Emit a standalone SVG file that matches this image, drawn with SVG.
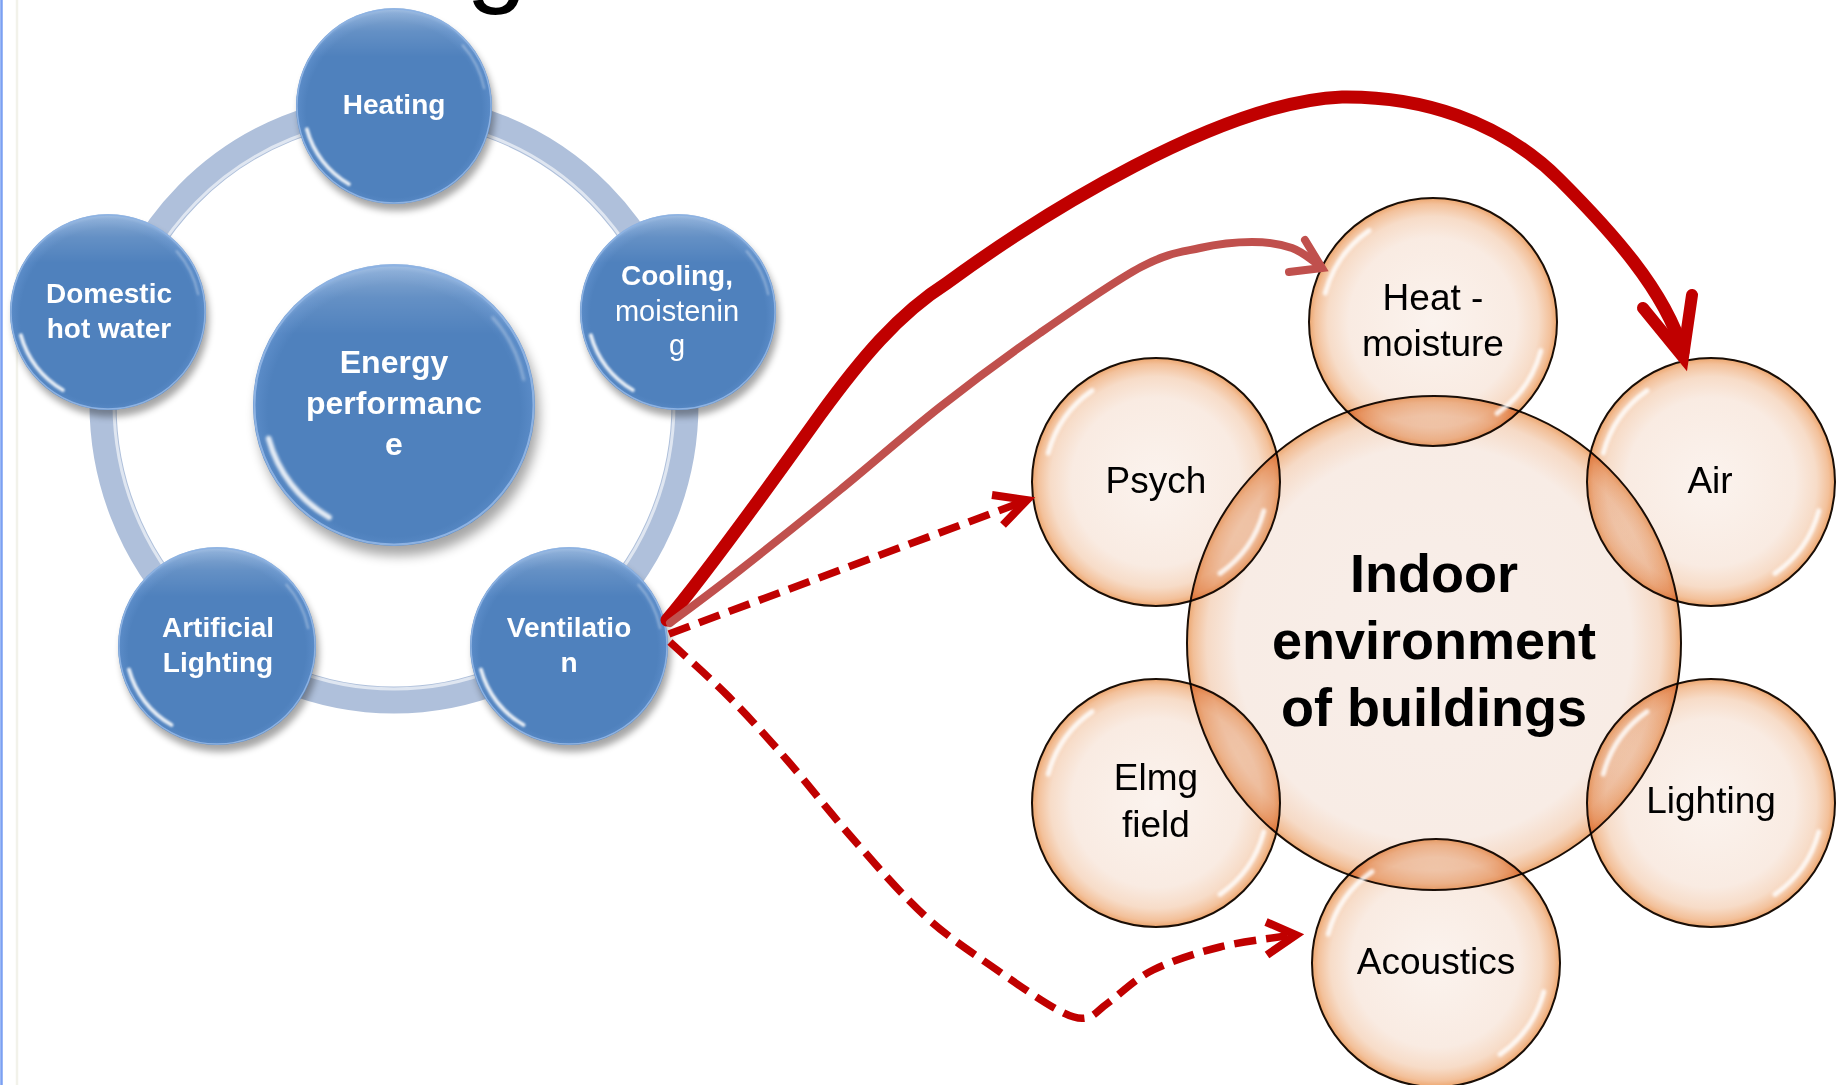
<svg xmlns="http://www.w3.org/2000/svg" width="1841" height="1085" viewBox="0 0 1841 1085">
  <style>
    .tb { font-family: "Liberation Sans", Arial, sans-serif; font-weight: bold; font-size: 28px; fill: #FFFFFF; text-anchor: middle; }
    .tbr { font-family: "Liberation Sans", Arial, sans-serif; font-weight: normal; font-size: 29px; fill: #FFFFFF; text-anchor: middle; }
    .te { font-family: "Liberation Sans", Arial, sans-serif; font-weight: bold; font-size: 32px; fill: #FFFFFF; text-anchor: middle; }
    .to { font-family: "Liberation Sans", Arial, sans-serif; font-size: 37px; fill: #000000; text-anchor: middle; }
    .tc { font-family: "Liberation Sans", Arial, sans-serif; font-weight: bold; font-size: 54px; fill: #000000; text-anchor: middle; }
    .ob { fill: url(#gO); stroke: #1A0E06; stroke-width: 2; mix-blend-mode: multiply; }
    .obBig { fill: url(#gOB); stroke: #1A0E06; stroke-width: 2; mix-blend-mode: multiply; }
    .thick { fill: none; stroke: #C00000; stroke-width: 13; stroke-linecap: round; stroke-linejoin: round; }
    .thin { fill: none; stroke: #C0504D; stroke-width: 8; stroke-linecap: round; stroke-linejoin: round; }
    .dash { fill: none; stroke: #C00000; stroke-width: 7.5; stroke-dasharray: 22 10; }
    .headThick { fill: none; stroke: #C00000; stroke-width: 12; stroke-linecap: round; stroke-linejoin: miter; }
    .headThin { fill: none; stroke: #C0504D; stroke-width: 8; stroke-linecap: round; stroke-linejoin: miter; }
    .headDash { fill: none; stroke: #C00000; stroke-width: 8; stroke-linecap: butt; stroke-linejoin: miter; }
  </style>
  <defs>
    <radialGradient id="gB" cx="50%" cy="52%" r="52%">
      <stop offset="0%" stop-color="#4F81BD"/>
      <stop offset="86%" stop-color="#4F81BD"/>
      <stop offset="95%" stop-color="#5A8BC7"/>
      <stop offset="100%" stop-color="#78A3D8"/>
    </radialGradient>
    <linearGradient id="gBtop" x1="0" y1="0" x2="0" y2="1">
      <stop offset="0%" stop-color="#FFFFFF" stop-opacity="0.35"/>
      <stop offset="12%" stop-color="#FFFFFF" stop-opacity="0.12"/>
      <stop offset="25%" stop-color="#FFFFFF" stop-opacity="0"/>
    </linearGradient>
    <radialGradient id="gO" cx="50%" cy="50%" r="50%">
      <stop offset="0%" stop-color="#FBF3EE"/>
      <stop offset="68%" stop-color="#F9EBE2"/>
      <stop offset="85%" stop-color="#F7DCC8"/>
      <stop offset="95%" stop-color="#F3C19B"/>
      <stop offset="100%" stop-color="#EDA66E"/>
    </radialGradient>
    <radialGradient id="gOB" cx="50%" cy="50%" r="50%">
      <stop offset="0%" stop-color="#F8EEE9"/>
      <stop offset="80%" stop-color="#F8ECE5"/>
      <stop offset="92%" stop-color="#F6DAC6"/>
      <stop offset="97.5%" stop-color="#F2BF98"/>
      <stop offset="100%" stop-color="#EDA872"/>
    </radialGradient>
    <filter id="blurSh" x="-30%" y="-30%" width="160%" height="160%">
      <feGaussianBlur stdDeviation="4"/>
    </filter>
    <filter id="blurHi" x="-30%" y="-30%" width="160%" height="160%">
      <feGaussianBlur stdDeviation="1.2"/>
    </filter>
    <g id="blueBall">
      <circle r="100" cx="3" cy="7" fill="#000000" opacity="0.35" filter="url(#blurSh)"/>
      <circle r="100" fill="url(#gB)"/>
      <circle r="100" fill="url(#gBtop)"/>
      <circle r="99" fill="none" stroke="#8DB2E2" stroke-width="1.5"/>
      <path d="M -46 79.7 A 92 92 0 0 1 -88.9 23.8" fill="none" stroke="#FFFFFF" stroke-width="4" stroke-linecap="round" opacity="0.85" filter="url(#blurHi)"/>
      <path d="M 70 -62 A 94 94 0 0 1 92 -18" fill="none" stroke="#FFFFFF" stroke-width="2" stroke-linecap="round" opacity="0.35" filter="url(#blurHi)"/>
    </g>
    <g id="oHi">
      <path d="M -86.9 -23.3 A 90 90 0 0 1 -51.6 -73.7" fill="none" stroke="#FFFFFF" stroke-width="4" stroke-linecap="round" opacity="0.85" filter="url(#blurHi)"/>
      <path d="M 86.9 23.3 A 90 90 0 0 1 51.6 73.7" fill="none" stroke="#FFFFFF" stroke-width="4" stroke-linecap="round" opacity="0.85" filter="url(#blurHi)"/>
    </g>
  </defs>

  <rect x="0" y="0" width="1841" height="1085" fill="#FFFFFF"/>
  <line x1="1.5" y1="0" x2="1.5" y2="1085" stroke="#7BA0F2" stroke-width="2.5"/>
  <line x1="17" y1="0" x2="17" y2="1085" stroke="#F2F2EA" stroke-width="2.5"/>

  <text x="466" y="-8" font-family="Liberation Sans, Arial, sans-serif" font-size="110" fill="#000000">g</text>

  <g id="energy-cycle">
    <g id="cycle-ring">
      <ellipse cx="394" cy="404" rx="291" ry="296" fill="none" stroke="#AFC0DB" stroke-width="27"/>
      <ellipse cx="394" cy="404" rx="280" ry="285" fill="none" stroke="#FFFFFF" stroke-width="3" opacity="0.6"/>
    </g>
    <g id="node-heating">
      <use href="#blueBall" transform="translate(394 106) scale(0.98)"/>
      <text class="tb" x="394" y="114">Heating</text>
    </g>
    <g id="node-domestic-hot-water">
      <use href="#blueBall" transform="translate(108 312) scale(0.98)"/>
      <text class="tb" x="109" y="303">Domestic</text>
      <text class="tb" x="109" y="338">hot water</text>
    </g>
    <g id="node-cooling">
      <use href="#blueBall" transform="translate(678 312) scale(0.98)"/>
      <text class="tb" x="677" y="285">Cooling,</text>
      <text class="tbr" x="677" y="321">moistenin</text>
      <text class="tbr" x="677" y="355">g</text>
    </g>
    <g id="node-energy-performance">
      <use href="#blueBall" transform="translate(394 405) scale(1.41)"/>
      <text class="te" x="394" y="373">Energy</text>
      <text class="te" x="394" y="414">performanc</text>
      <text class="te" x="394" y="455">e</text>
    </g>
    <g id="node-artificial-lighting">
      <use href="#blueBall" transform="translate(217 646) scale(0.99)"/>
      <text class="tb" x="218" y="637">Artificial</text>
      <text class="tb" x="218" y="672">Lighting</text>
    </g>
    <g id="node-ventilation">
      <use href="#blueBall" transform="translate(569 646) scale(0.99)"/>
      <text class="tb" x="569" y="637">Ventilatio</text>
      <text class="tb" x="569" y="672">n</text>
    </g>
  </g>

  <g id="indoor-environment">
    <g id="node-indoor-environment">
      <circle class="obBig" cx="1434" cy="643" r="247"/>
      <text class="tc" x="1434" y="592">Indoor</text>
      <text class="tc" x="1434" y="659">environment</text>
      <text class="tc" x="1434" y="726">of buildings</text>
    </g>
    <g id="node-heat-moisture">
      <circle class="ob" cx="1433" cy="322" r="124"/>
      <use href="#oHi" transform="translate(1433 322) scale(1.24)"/>
      <text class="to" x="1433" y="310">Heat -</text>
      <text class="to" x="1433" y="356">moisture</text>
    </g>
    <g id="node-psych">
      <circle class="ob" cx="1156" cy="482" r="124"/>
      <use href="#oHi" transform="translate(1156 482) scale(1.24)"/>
      <text class="to" x="1156" y="493">Psych</text>
    </g>
    <g id="node-air">
      <circle class="ob" cx="1711" cy="482" r="124"/>
      <use href="#oHi" transform="translate(1711 482) scale(1.24)"/>
      <text class="to" x="1710" y="493">Air</text>
    </g>
    <g id="node-elmg-field">
      <circle class="ob" cx="1156" cy="803" r="124"/>
      <use href="#oHi" transform="translate(1156 803) scale(1.24)"/>
      <text class="to" x="1156" y="790">Elmg</text>
      <text class="to" x="1156" y="837">field</text>
    </g>
    <g id="node-lighting">
      <circle class="ob" cx="1711" cy="803" r="124"/>
      <use href="#oHi" transform="translate(1711 803) scale(1.24)"/>
      <text class="to" x="1711" y="813">Lighting</text>
    </g>
    <g id="node-acoustics">
      <circle class="ob" cx="1436" cy="963" r="124"/>
      <use href="#oHi" transform="translate(1436 963) scale(1.24)"/>
      <text class="to" x="1436" y="974">Acoustics</text>
    </g>
  </g>

  <g id="connectors">
    <path class="thick" d="M 667 620 C 705 575, 770 485, 820 415 C 860 360, 898 314, 947 283 C 1040 215, 1220 102, 1342 97 C 1420 96, 1500 120, 1560 180 C 1610 230, 1665 290, 1683 352"/>
    <path class="headThick" d="M 1643 308 L 1683 357 L 1692 295"/>

    <path class="thin" d="M 670 623 C 681.7 614.2, 711.7 592.2, 740 570 C 768.3 547.8, 806.7 517.2, 840 490 C 873.3 462.8, 906.7 433.2, 940 407 C 973.3 380.8, 1006.5 356.3, 1040 333 C 1073.5 309.7, 1114.3 281.2, 1141 267 C 1167.7 252.8, 1181.5 252.2, 1200 248 C 1218.5 243.8, 1236.7 242, 1252 242 C 1267.3 242, 1280.7 244, 1292 248 C 1303.3 252, 1315.3 263, 1320 266"/>
    <path class="headThin" d="M 1305 240 L 1322 268 L 1289 272"/>

    <path class="dash" d="M 669 634 L 1022 502"/>
    <path class="headDash" d="M 992 495 L 1027 500 L 1003 525"/>

    <path class="dash" d="M 670 642 C 679.8 651.2, 709.5 677.3, 729 697 C 748.5 716.7, 766.2 736.2, 787 760 C 807.8 783.8, 830.8 813.8, 854 840 C 877.2 866.2, 902.2 895.3, 926 917 C 949.8 938.7, 975 954.5, 997 970 C 1019 985.5, 1043.2 1002, 1058 1010 C 1072.8 1018, 1077.7 1019.2, 1086 1018 C 1094.3 1016.8, 1096.8 1011, 1108 1003 C 1119.2 995, 1134.3 979.3, 1153 970 C 1171.7 960.7, 1196.7 952.8, 1220 947 C 1243.3 941.2, 1281 937, 1293 935"/>
    <path class="headDash" d="M 1266 922 L 1296 935 L 1267 955"/>
  </g>
</svg>
